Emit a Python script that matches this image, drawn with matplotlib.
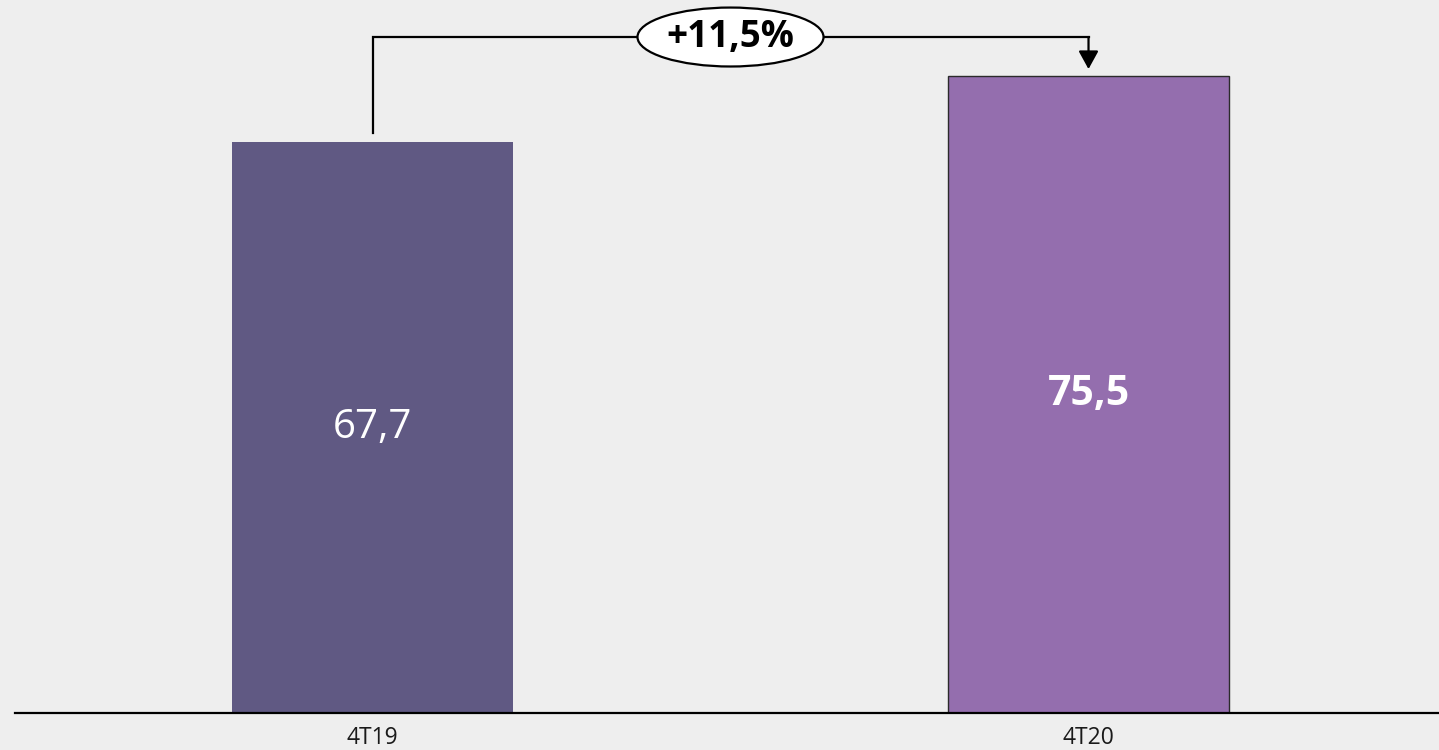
import matplotlib.pyplot as plt
from matplotlib.patches import FancyArrowPatch

plt.rcParams['font.family'] = ['Open Sans', 'DejaVu Sans']

# data
categories = ['4T19', '4T20']
values = [67.7, 75.5]
value_labels = ['67,7', '75,5']
bar_colors = ['#605983', '#946EAE']

bg = '#EEEEEE'
fig = plt.figure(figsize=(14.39, 7.5), dpi=100, facecolor=bg)
ax = fig.add_axes([15 / 1439, 37 / 750, 1424 / 1439, 713 / 750])
ax.set_facecolor(bg)

x = list(range(len(categories)))
bars = ax.bar(x, values, width=0.3925, color=bar_colors, zorder=2)
# second bar has thin dark outline
bars[1].set_edgecolor('#2b2b2b')
bars[1].set_linewidth(1.0)

# value labels in the middle of each bar
ax.text(x[0], values[0] / 2, value_labels[0], ha='center', va='center',
        color='white', fontsize=29)
ax.text(x[1], values[1] / 2, value_labels[1], ha='center', va='center',
        color='white', fontsize=29.5, fontweight='bold')

ax.set_xlim(-0.4993, 1.4895)
ax.set_ylim(0, 84.54)

for s in ['top', 'right', 'left']:
    ax.spines[s].set_visible(False)
ax.spines['bottom'].set_linewidth(1.6)
ax.spines['bottom'].set_color('black')
ax.set_yticks([])
ax.set_xticks(x)
ax.set_xticklabels(categories, fontsize=16.5, color='#1a1a1a')
ax.tick_params(axis='x', length=0, pad=9)

# growth bracket
pct = (values[1] / values[0] - 1) * 100
y_start = values[0] + 1.1
y_top = max(values) + 4.65
y_end = values[1] + 0.85
ax.plot([x[0], x[0], x[1]], [y_start, y_top, y_top], color='black', lw=1.6,
        solid_joinstyle='miter', zorder=3)
arr = FancyArrowPatch((x[1], y_top), (x[1], y_end), arrowstyle='-|>,head_length=1.0,head_width=0.55',
                      mutation_scale=11, color='black', lw=1.6, shrinkA=0, shrinkB=0, zorder=3)
ax.add_patch(arr)

ax.text(0.5, y_top, f'+{pct:.1f}%'.replace('.', ','), ha='center', va='center',
        fontsize=26.5, fontweight='bold', color='black', zorder=4,
        bbox=dict(boxstyle='ellipse,pad=0.05', facecolor='white', edgecolor='black', lw=1.6))

fig.savefig('out.png', dpi=100, facecolor=bg)
